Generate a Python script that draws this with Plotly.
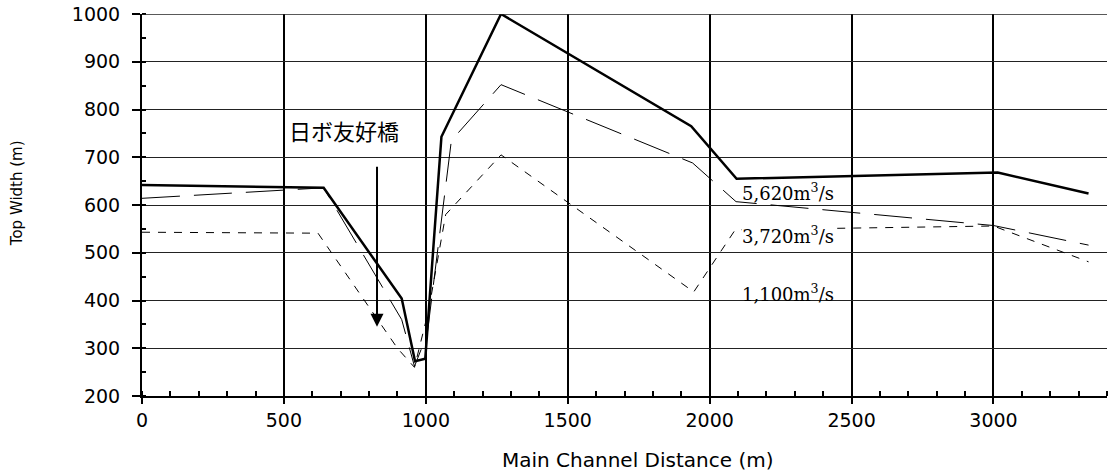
import plotly.graph_objects as go

# ---- data ----
dist_5620 = [0, 640, 915, 962, 998, 1055, 1265, 1935, 2095, 3015, 3335]
width_5620 = [642, 636, 404, 273, 278, 743, 1000, 765, 655, 668, 624]

dist_3720 = [0, 640, 915, 960, 1005, 1090, 1265, 1940, 2093, 3000, 3335]
width_3720 = [614, 636, 360, 262, 330, 735, 852, 688, 607, 557, 516]

dist_1100 = [0, 620, 900, 960, 1010, 1070, 1265, 1944, 2090, 3000, 3335]
width_1100 = [543, 541, 300, 260, 380, 580, 705, 418, 548, 556, 481]

series_labels = ["5,620m<sup>3</sup>/s", "3,720m<sup>3</sup>/s", "1,100m<sup>3</sup>/s"]
label_y = [627, 537, 415]
label_x = 2110

bridge_label = "日ボ友好橋"
bridge_x = 828
arrow_from = 683
arrow_to = 345

x_ticks = [0, 500, 1000, 1500, 2000, 2500, 3000]
y_ticks = [200, 300, 400, 500, 600, 700, 800, 900, 1000]

x_title = "Main Channel Distance (m)"
y_title = "Top Width (m)"

fig = go.Figure()
fig.add_trace(go.Scatter(x=dist_5620, y=width_5620, mode="lines",
                         line=dict(color="black", width=2.5), name="5,620", cliponaxis=False))
fig.add_trace(go.Scatter(x=dist_3720, y=width_3720, mode="lines",
                         line=dict(color="black", width=1, dash="38px,14px"), name="3,720"))
fig.add_trace(go.Scatter(x=dist_1100, y=width_1100, mode="lines",
                         line=dict(color="black", width=1, dash="8px,8px"), name="1,100"))

serif = "DejaVu Serif"
for i, (t, yv) in enumerate(zip(series_labels, label_y)):
    fig.add_annotation(x=label_x, y=yv, text=t, showarrow=False, xanchor="left",
                       yanchor="middle", font=dict(family=serif, size=18, color="black"),
                       bgcolor="white" if i == 1 else "rgba(0,0,0,0)", borderpad=0)

fig.add_annotation(x=512, y=757, text=bridge_label, showarrow=False, xanchor="left",
                   yanchor="middle", font=dict(family="Noto Sans CJK JP", size=22, color="black"))

fig.add_annotation(x=bridge_x, y=arrow_to, ax=bridge_x, ay=arrow_from, axref="x", ayref="y",
                   text="", showarrow=True, arrowhead=2, arrowsize=1.3, arrowwidth=2,
                   arrowcolor="black", standoff=0, startstandoff=0)

sans = "DejaVu Sans"
# axis titles
fig.add_annotation(xref="paper", yref="paper", x=0.513, y=-0.1675, text=x_title,
                   showarrow=False, xanchor="center", yanchor="middle",
                   font=dict(family=sans, size=20, color="black"))
fig.add_annotation(xref="paper", yref="paper", x=-0.1295, y=0.531, text=y_title,
                   textangle=-90, showarrow=False, xanchor="center", yanchor="middle",
                   font=dict(family=sans, size=15, color="black"))

fig.update_layout(
    width=1111, height=475,
    margin=dict(l=142, r=4, t=14, b=79),
    paper_bgcolor="white", plot_bgcolor="white",
    showlegend=False,
    font=dict(family=sans, color="black"),
    xaxis=dict(
        range=[0, 3400], tickvals=x_ticks, ticktext=[str(v) for v in x_ticks],
        automargin=False, ticklabeloverflow="allow",
        showgrid=True, gridcolor="black", gridwidth=2,
        showline=True, linecolor="black", linewidth=2,
        ticks="outside", ticklen=6, tickwidth=1.5, tickcolor="black",
        tickfont=dict(family=sans, size=19, color="black"),
        minor=dict(dtick=100, ticks="inside", ticklen=5, tickcolor="black", showgrid=False),
        zeroline=False,
    ),
    yaxis=dict(
        range=[200, 1000], tickvals=y_ticks, ticktext=[str(v) for v in y_ticks],
        automargin=False, ticklabeloverflow="allow",
        showgrid=True, gridcolor="#222", gridwidth=1,
        showline=True, linecolor="black", linewidth=2,
        ticks="outside", ticklen=8, tickwidth=1.5, tickcolor="black",
        ticklabelstandoff=8,
        tickfont=dict(family=sans, size=19, color="black"),
        minor=dict(dtick=50, ticks="inside", ticklen=4, tickcolor="black", showgrid=False),
        zeroline=False,
    ),
    shapes=[dict(type="line", xref="paper", yref="y", x0=0, x1=1, y0=1000, y1=1000,
                 line=dict(color="#222", width=1.5), layer="above")],
)

fig.write_html("out.html", config={"displayModeBar": False},
               post_script="document.body.style.margin='0';")
